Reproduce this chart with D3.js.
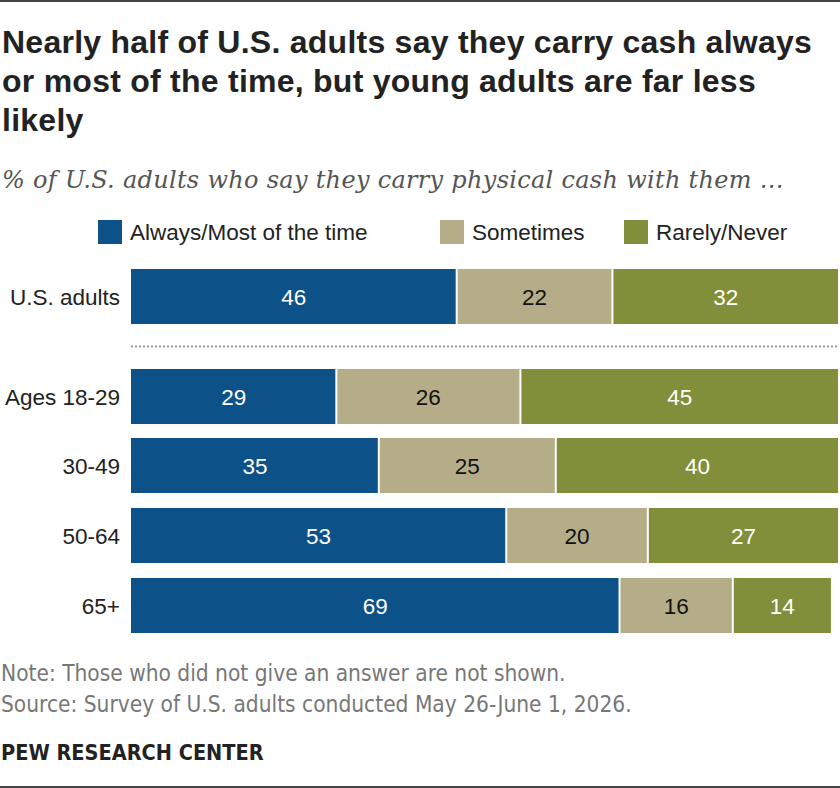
<!DOCTYPE html>
<html>
<head>
<meta charset="utf-8">
<script src="https://cdn.jsdelivr.net/npm/d3@7"></script>
<style>
  body { margin: 0; background: #fff; }
  svg { display: block; }
</style>
</head>
<body>
<div id="chart"></div>
<script>
// data
var groups = ["U.S. adults", "Ages 18-29", "30-49", "50-64", "65+"]
var always = [46, 29, 35, 53, 69]
var sometimes = [22, 26, 25, 20, 16]
var rarely = [32, 45, 40, 27, 14]
var seriesNames = ["Always/Most of the time", "Sometimes", "Rarely/Never"]
var seriesColors = ["#0d5189", "#b5ad88", "#818e3a"]
var textColors = ["#fff", "#111", "#fff"]

var W = 840, H = 788
var sans = "'Liberation Sans', Arial, sans-serif"
var narrow = "'Liberation Sans Narrow', 'DejaVu Sans Condensed', 'Liberation Sans', sans-serif"

var svg = d3.select('#chart').append('svg')
    .attr('width', W)
    .attr('height', H)

// top and bottom rules
svg.append('rect').attr('x', 0).attr('y', 0).attr('width', W).attr('height', 2).attr('fill', '#444')
svg.append('rect').attr('x', 0).attr('y', H - 2).attr('width', W).attr('height', 2).attr('fill', '#444')

// title
var titleLines = ["Nearly half of U.S. adults say they carry cash always",
    "or most of the time, but young adults are far less",
    "likely"]
svg.selectAll('text.title')
    .data(titleLines)
    .enter()
    .append('text')
    .attr('class', 'title')
    .attr('x', 2)
    .attr('y', function(d, i){ return 53 + i * 39 })
    .attr('font-family', sans)
    .attr('font-weight', 'bold')
    .attr('font-size', 32)
    .attr('letter-spacing', 0.25)
    .attr('fill', '#222')
    .text(function(d){ return d })

svg.append('text')
    .attr('x', 2)
    .attr('y', 188)
    .attr('font-family', "'DejaVu Serif', Georgia, serif")
    .attr('font-style', 'italic')
    .attr('font-size', 24)
    .attr('letter-spacing', 0.3)
    .attr('fill', '#555')
    .text("% of U.S. adults who say they carry physical cash with them ...")

// scales
var x = d3.scaleLinear().domain([0, 100]).range([131, 839])
var rowY = [269, 369, 438, 508, 578]
var barH = 55
var fs = 22.5

var rows = groups.map(function(g, i){
    return {group: g, vals: [always[i], sometimes[i], rarely[i]], y: rowY[i]}
})

// legend
var legendX = [98, 440, 624]
var leg = svg.selectAll('g.leg')
    .data(seriesNames)
    .enter()
    .append('g')
    .attr('transform', function(d, i){ return 'translate(' + legendX[i] + ',220)' })
leg.append('rect')
    .attr('width', 24).attr('height', 24)
    .attr('fill', function(d, i){ return seriesColors[i] })
leg.append('text')
    .attr('x', 32).attr('y', 20)
    .attr('font-family', sans)
    .attr('font-size', fs)
    .attr('fill', '#222')
    .text(function(d){ return d })

// dotted separator
svg.append('line')
    .attr('x1', 131).attr('x2', 839)
    .attr('y1', 346.5).attr('y2', 346.5)
    .attr('stroke', '#999')
    .attr('stroke-width', 2)
    .attr('stroke-dasharray', '2,2')

var row = svg.selectAll('g.row')
    .data(rows)
    .enter()
    .append('g')
    .attr('class', 'row')

row.append('text')
    .attr('x', 120)
    .attr('y', function(d){ return d.y + barH / 2 + 8 })
    .attr('text-anchor', 'end')
    .attr('font-family', sans)
    .attr('font-size', fs)
    .attr('fill', '#222')
    .text(function(d){ return d.group })

row.each(function(d){
    var g = d3.select(this)
    var start = 0
    d.vals.forEach(function(v, j){
        var x0 = x(start), x1 = x(start + v)
        g.append('rect')
            .attr('x', x0 + (j > 0 ? 1 : 0))
            .attr('y', d.y)
            .attr('width', x1 - x0 - (j > 0 ? 2 : 1))
            .attr('height', barH)
            .attr('fill', seriesColors[j])
        g.append('text')
            .attr('x', (x0 + x1) / 2)
            .attr('y', d.y + barH / 2 + 8)
            .attr('text-anchor', 'middle')
            .attr('font-family', sans)
            .attr('font-size', fs)
            .attr('fill', textColors[j])
            .text(v)
        start += v
    })
})

// notes
var notes = ["Note: Those who did not give an answer are not shown.",
    "Source: Survey of U.S. adults conducted May 26-June 1, 2026."]
svg.selectAll('text.note')
    .data(notes)
    .enter()
    .append('text')
    .attr('class', 'note')
    .attr('x', 1)
    .attr('y', function(d, i){ return 681 + i * 31 })
    .attr('font-family', narrow)
    .attr('font-size', 22.5)
    .attr('fill', '#777')
    .text(function(d){ return d })

svg.append('text')
    .attr('x', 1)
    .attr('y', 760)
    .attr('font-family', narrow)
    .attr('font-weight', 'bold')
    .attr('font-size', 21.5)
    .attr('fill', '#222')
    .text("PEW RESEARCH CENTER")
</script>
</body>
</html>
